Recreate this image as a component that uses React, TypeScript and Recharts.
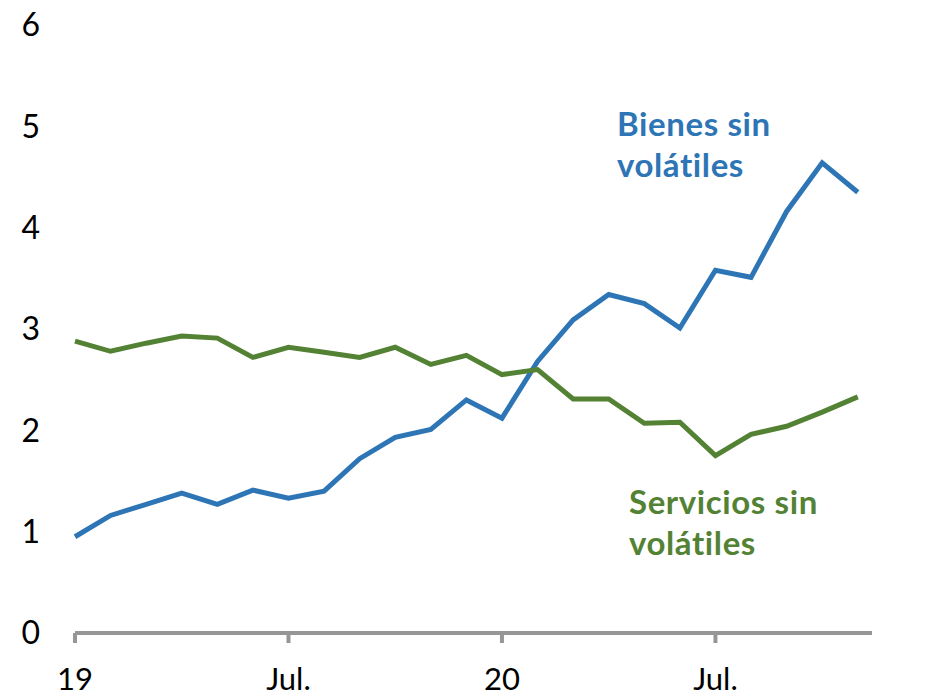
import React from "react";
import { LineChart, Line, XAxis, YAxis } from "recharts";

// monthly, Jan 2019 .. Nov 2020
const bienes = [
  0.95, 1.16, 1.27, 1.38, 1.27, 1.41, 1.33, 1.4, 1.72, 1.93, 2.01, 2.3,
  2.12, 2.68, 3.09, 3.34, 3.25, 3.01, 3.58, 3.51, 4.16, 4.64, 4.35,
];
const servicios = [
  2.88, 2.78, 2.86, 2.93, 2.91, 2.72, 2.82, 2.77, 2.72, 2.82, 2.65, 2.74,
  2.55, 2.6, 2.31, 2.31, 2.07, 2.08, 1.75, 1.96, 2.04, 2.18, 2.33,
];
const xTicks = [0, 6, 12, 18];
const xTickLabels = ["19", "Jul.", "20", "Jul."];
const yTicks = [0, 1, 2, 3, 4, 5, 6];

const BLUE = "#2E75B6";
const GREEN = "#548235";
const AXIS = "#969696";
const FONT = "Lato, 'Open Sans', sans-serif";

const data = bienes.map((b, i) => ({ i, bienes: b, servicios: servicios[i] }));

const tickStyle = { fontSize: 32, fill: "#000", fontFamily: FONT };
const xTickStyle = { fontSize: 31, fill: "#000", fontFamily: FONT };

const noteStyle: React.CSSProperties = {
  position: "absolute",
  fontFamily: FONT,
  fontWeight: 700,
  fontSize: 33,
  letterSpacing: 0.6,
  lineHeight: "41px",
  whiteSpace: "pre",
};

export default function App() {
  return (
    <div style={{ position: "absolute", left: 0, top: 0, width: 942, height: 698, background: "#fff" }}>
      <LineChart
        width={942}
        height={698}
        data={data}
        margin={{ top: 25, right: 0, bottom: 0, left: 0 }}
      >
        <XAxis
          dataKey="i"
          type="number"
          domain={[0, 22.4]}
          ticks={xTicks}
          tickFormatter={(v) => xTickLabels[xTicks.indexOf(v)] ?? ""}
          height={65}
          stroke={AXIS}
          strokeWidth={4}
          tickSize={10}
          tickMargin={25}
          tick={xTickStyle}
        />
        <YAxis
          yAxisId="left"
          orientation="left"
          width={75}
          domain={[0, 6]}
          ticks={yTicks}
          axisLine={false}
          tickLine={false}
          tickSize={0}
          tickMargin={35}
          tick={tickStyle}
        />
        <YAxis
          yAxisId="right"
          orientation="right"
          width={70}
          domain={[0, 6]}
          ticks={yTicks}
          axisLine={false}
          tickLine={false}
          tickSize={0}
          tickMargin={32}
          tick={tickStyle}
        />
        <Line
          yAxisId="left"
          type="linear"
          dataKey="bienes"
          stroke={BLUE}
          strokeWidth={5}
          dot={false}
          isAnimationActive={false}
        />
        <Line
          yAxisId="left"
          type="linear"
          dataKey="servicios"
          stroke={GREEN}
          strokeWidth={5}
          dot={false}
          isAnimationActive={false}
        />
      </LineChart>
      <div style={{ ...noteStyle, color: BLUE, left: 617, top: 103 }}>{"Bienes sin\nvolátiles"}</div>
      <div style={{ ...noteStyle, color: GREEN, left: 629, top: 481 }}>{"Servicios sin\nvolátiles"}</div>
    </div>
  );
}
